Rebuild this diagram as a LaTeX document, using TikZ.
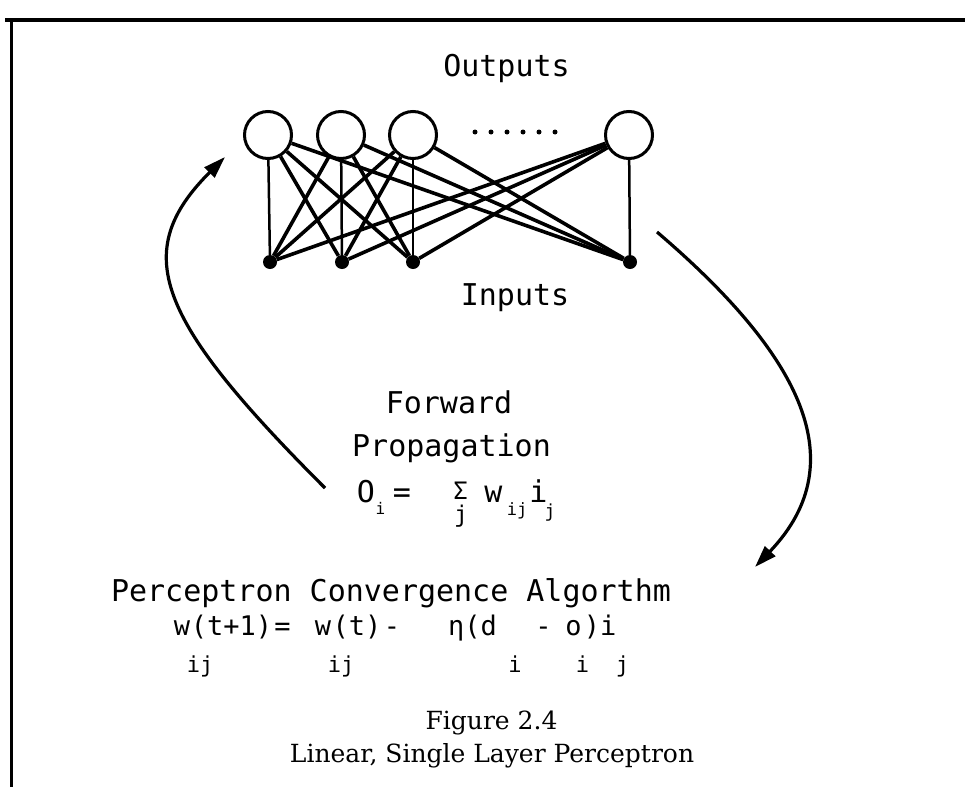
\documentclass[tikz,border=0pt]{standalone}
\usepackage{fontspec}
\newfontfamily\monofont{DejaVu Sans Mono}
\newfontfamily\capfont{DejaVu Serif}
\usetikzlibrary{arrows.meta}
\begin{document}
\begin{tikzpicture}[x=1pt,y=-1pt,
  lbl/.style={font=\monofont\fontsize{30}{30}\selectfont, inner sep=0, anchor=base},
  fml/.style={font=\monofont\fontsize{27}{27}\selectfont, inner sep=0, anchor=base},
  subtxt/.style={font=\monofont\fontsize{#1}{#1}\selectfont, inner sep=0, anchor=base},
  captxt/.style={font=\capfont\fontsize{25}{25}\selectfont, inner sep=0, anchor=base},
  outn/.style={circle, draw, line width=3pt, minimum size=47pt, inner sep=0},
  inn/.style={circle, fill, minimum size=14pt, inner sep=0},
  dotn/.style={circle, fill, minimum size=5pt, inner sep=0},
  wire/.style={line width=3.6pt},
  vwire/.style={line width=2.5pt},
  cyclearrow/.style={line width=3.2pt, -{Triangle[length=22pt,width=14pt]}},
  frame/.style={line width=3.5pt}]
\useasboundingbox (0,0) rectangle (965,787);

% frame
\coordinate (ftl) at (5,20);
\coordinate (ftr) at (965,20);
\coordinate (flt) at (11.5,20);
\coordinate (flb) at (11.5,787);
\draw[frame] (ftl) -- (ftr);
\draw[frame] (flt) -- (flb);

% output units
\node[outn] (o1) at (268,135) {};
\node[outn] (o2) at (341,135) {};
\node[outn] (o3) at (413,135) {};
\node[outn] (o4) at (629,135) {};
% ellipsis dots
\foreach \k/\x in {1/475,2/491,3/507,4/523,5/539,6/555}
  \node[dotn] (d\k) at (\x,132) {};
% input units
\node[inn] (i1) at (270,262) {};
\node[inn] (i2) at (342,262) {};
\node[inn] (i3) at (413,262) {};
\node[inn] (i4) at (630,262) {};
% connections
\foreach \a in {1,...,4}
  \foreach \b in {1,...,4}
    {\ifnum\a=\b \draw[vwire] (o\a) -- (i\b); \else \draw[wire] (o\a) -- (i\b); \fi}

% labels
\node[lbl] (outputs) at (506.5,76) {Outputs};
\node[lbl] (inputs) at (515,305) {Inputs};
\node[lbl] (fwd) at (449,413) {Forward};
\node[lbl] (prop) at (451.5,456) {Propagation};

% forward formula
\node[lbl] (fO) at (366,502) {O};
\node[subtxt=16] (fOi) at (380.5,514) {i};
\node[lbl] (feq) at (402,502) {=};
\node[subtxt=24] (fsig) at (460.5,499) {Σ};
\node[subtxt=23] (fsigj) at (461,522) {j};
\node[lbl] (fw) at (493.5,502) {w};
\node[subtxt=17] (fwij) at (517,515) {ij};
\node[lbl] (fi) at (538.5,502) {i};
\node[subtxt=18] (fij) at (550,517) {j};

% perceptron convergence
\node[lbl] (pca) at (391,601) {Perceptron Convergence Algorthm};
\node[fml] (pw1) at (182,635) {w};
\node[fml] (pt1) at (231.5,635) {(t+1)};
\node[fml] (peq) at (282.5,635) {=};
\node[fml] (pw2) at (323,635) {w};
\node[fml] (pt2) at (357,635) {(t)};
\node[fml] (pm1) at (392,635) {-};
\node[fml] (peta) at (472.5,635) {η(d};
\node[fml] (pm2) at (543.5,635) {-};
\node[fml] (po) at (573.5,635) {o};
\node[fml] (pci) at (600,635) {)i};
\node[subtxt=22] (pij1) at (200,672) {ij};
\node[subtxt=22] (pij2) at (341,672) {ij};
\node[subtxt=22] (pdi) at (515,672) {i};
\node[subtxt=22] (poi) at (582.5,672) {i};
\node[subtxt=22] (pj) at (622.5,672) {j};

% caption
\node[captxt] (fig) at (491.5,729) {Figure 2.4};
\node[captxt] (title) at (492,762) {Linear, Single Layer Perceptron};

% cycle arrows
\coordinate (ls) at (325,488);
\coordinate (le) at (225,157);
\draw[cyclearrow] (ls) .. controls (155,318) and (130,252) .. (le);
\coordinate (rs) at (657,232);
\coordinate (re) at (755,567);
\draw[cyclearrow] (rs) .. controls (794,349) and (858.5,459) .. (re);
\end{tikzpicture}
\end{document}
